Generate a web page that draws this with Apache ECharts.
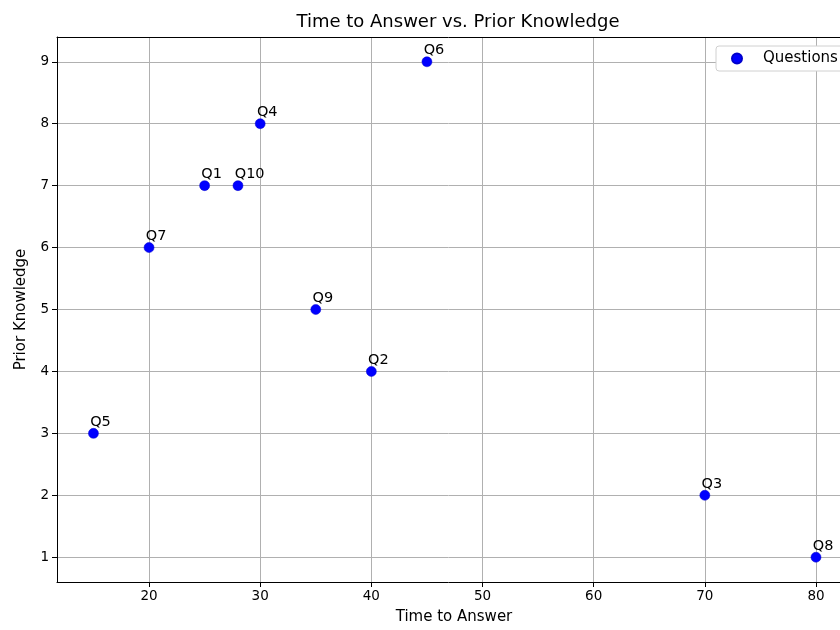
<!DOCTYPE html>
<html>
<head>
<meta charset="utf-8">
<script src="https://cdn.jsdelivr.net/npm/echarts@6/dist/echarts.min.js"></script>
<style>
  html, body { margin: 0; padding: 0; background: #fff; }
  #chart { width: 840px; height: 630px; }
</style>
</head>
<body>
<div id="chart"></div>
<script>
const questions = ['Q1', 'Q2', 'Q3', 'Q4', 'Q5', 'Q6', 'Q7', 'Q8', 'Q9', 'Q10'];
const timeToAnswer = [25, 40, 70, 30, 15, 45, 20, 80, 35, 28];
const priorKnowledge = [7, 4, 2, 8, 3, 9, 6, 1, 5, 7];
const xTicks = [20, 30, 40, 50, 60, 70, 80];
const yTicks = [1, 2, 3, 4, 5, 6, 7, 8, 9];

const font = 'DejaVu Sans';
const chart = echarts.init(document.getElementById('chart'));

const points = questions.map((q, i) => ({
  name: q,
  value: [timeToAnswer[i], priorKnowledge[i]]
}));

chart.setOption({
  animation: false,
  title: {
    text: 'Time to Answer vs. Prior Knowledge',
    left: 453,
    textAlign: 'center',
    top: 8,
    textStyle: { fontFamily: font, fontSize: 18, fontWeight: 'normal', color: '#000' }
  },
  legend: {
    left: 716,
    top: 46,
    padding: [5, 40, 5, 15],
    backgroundColor: '#fff',
    borderColor: '#d0d0d0',
    borderWidth: 1,
    borderRadius: 3,
    itemWidth: 10,
    itemHeight: 10,
    icon: 'circle',
    textStyle: { fontFamily: font, fontSize: 15, color: '#000', padding: [0, 0, 0, 16] },
    data: ['Questions']
  },
  grid: { left: 57, right: 0, top: 37, bottom: 44 },
  xAxis: [{
    type: 'value',
    min: 11.72,
    max: 82.16,
    minInterval: 10,
    maxInterval: 10,
    name: 'Time to Answer',
    nameLocation: 'middle',
    nameGap: 28,
    nameTextStyle: { fontFamily: font, fontSize: 15, color: '#000', padding: [0, 0, 0, 11] },
    axisLine: { lineStyle: { color: '#000', width: 1 } },
    axisTick: { length: 5, lineStyle: { color: '#000' }, customValues: xTicks },
    axisLabel: { fontFamily: font, fontSize: 13.5, color: '#000', margin: 7, customValues: xTicks },
    splitLine: { show: true, lineStyle: { color: '#b0b0b0', width: 1 } }
  }, {
    type: 'value',
    position: 'top',
    min: 11.72,
    max: 82.16,
    axisLine: { show: true, lineStyle: { color: '#000', width: 1 } },
    axisTick: { show: false },
    axisLabel: { show: false },
    splitLine: { show: false }
  }],
  yAxis: {
    type: 'value',
    min: 0.6,
    max: 9.4,
    minInterval: 1,
    maxInterval: 1,
    name: 'Prior Knowledge',
    nameLocation: 'middle',
    nameGap: 28,
    nameTextStyle: { fontFamily: font, fontSize: 15, color: '#000' },
    axisLine: { show: true, lineStyle: { color: '#000', width: 1 } },
    axisTick: { show: true, length: 5, lineStyle: { color: '#000' }, customValues: yTicks },
    axisLabel: { fontFamily: font, fontSize: 13.5, color: '#000', margin: 8, customValues: yTicks },
    splitLine: { show: true, lineStyle: { color: '#b0b0b0', width: 1 } }
  },
  series: [{
    name: 'Questions',
    type: 'scatter',
    symbol: 'circle',
    symbolSize: 10,
    itemStyle: { color: '#0000ff', borderColor: '#0000cc', borderWidth: 0.5, opacity: 1 },
    label: {
      show: true,
      formatter: p => p.name,
      position: [2, 1.5],
      align: 'left',
      verticalAlign: 'bottom',
      fontFamily: font,
      fontSize: 14.5,
      color: '#000'
    },
    data: points
  }]
});
</script>
</body>
</html>
